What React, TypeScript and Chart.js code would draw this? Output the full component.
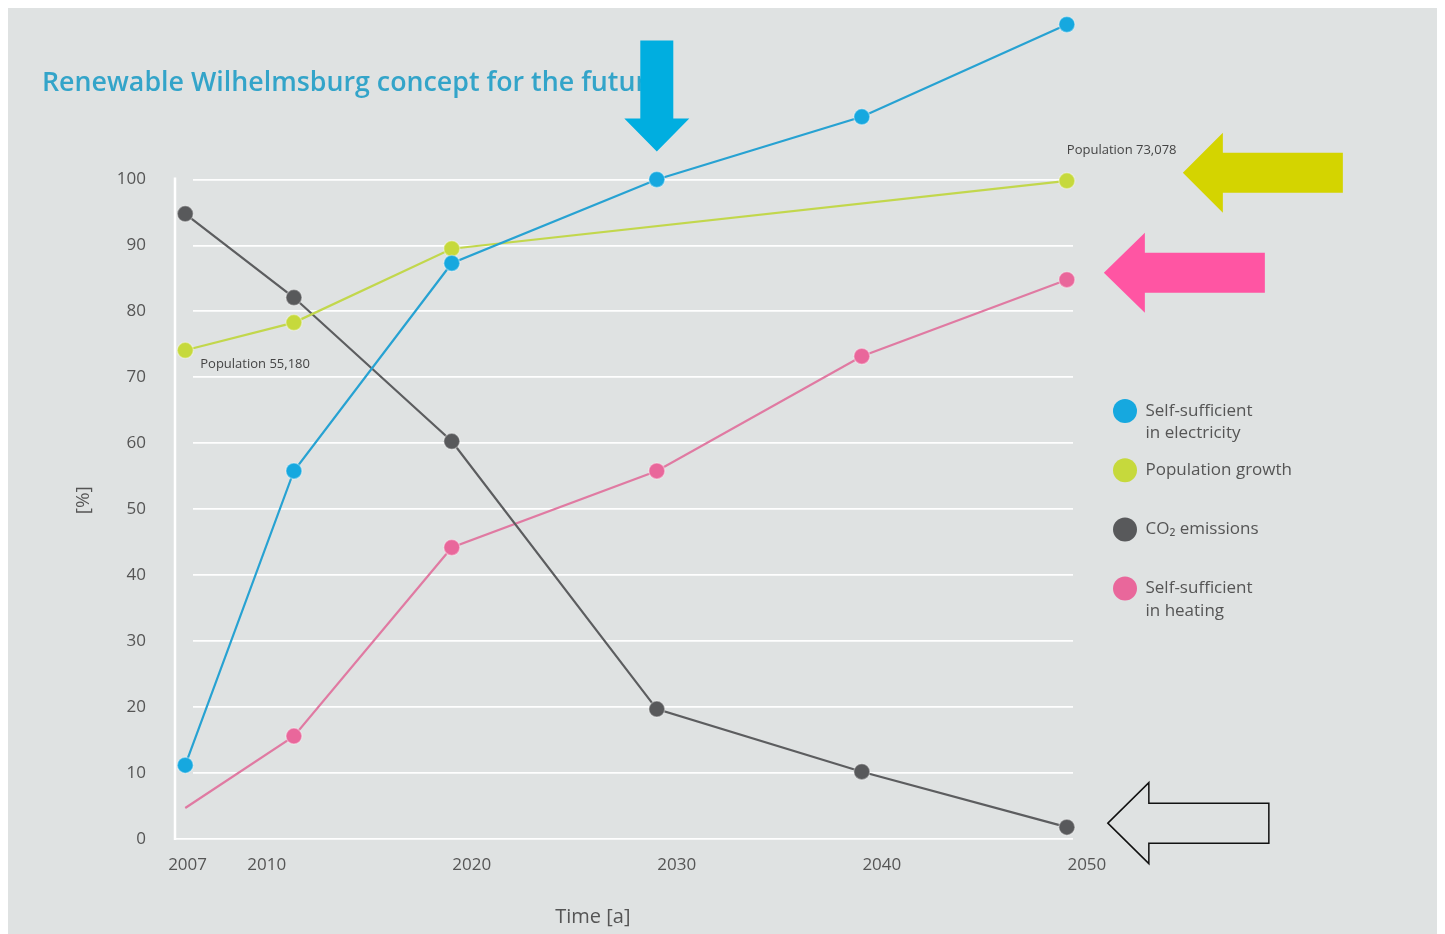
import React, { useEffect, useRef } from 'react';
import { Chart, registerables } from 'chart.js';

Chart.register(...registerables);

// ---------- data ----------
const YEARS = [2007, 2012.3, 2020, 2030, 2040, 2050];
const ELECTRICITY = [11.2, 55.8, 87.3, 100, 109.5, 123.5];
const POPULATION: (number | null)[] = [74.1, 78.3, 89.5, null, null, 99.8];
const CO2 = [94.8, 82.1, 60.3, 19.7, 10.2, 1.8];
const HEATING = [4.7, 15.6, 44.2, 55.8, 73.2, 84.8];
const HEATING_MARKER = [false, true, true, true, true, true];

const SERIES_LABELS: string[][] = [
  ['Self-sufficient', 'in electricity'],
  ['Population growth', ''],
  ['CO\u2082 emissions', ''],
  ['Self-sufficient', 'in heating'],
];

const X_TICKS = [2007, 2010, 2020, 2030, 2040, 2050];
const Y_TICKS = [0, 10, 20, 30, 40, 50, 60, 70, 80, 90, 100];

const TITLE = 'Renewable Wilhelmsburg concept for the future';
const X_TITLE = 'Time [a]';
const Y_TITLE = '[%]';
const POP_NOTE_START = 'Population 55,180';
const POP_NOTE_END = 'Population 73,078';

// ---------- styles ----------
const BG = '#dfe2e2';
const FONT = '"Open Sans", "DejaVu Sans", sans-serif';
const TEXT = '#555555';
const COLORS = ['#16a8df', '#c6d93c', '#58595b', '#e9679b'];
const LINE_COLORS = ['#27a2d2', '#c2d74c', '#5c5d5f', '#e07aa2'];

type ArrowSpec = {
  ds: number; idx: number; dir: 'down' | 'left'; dx: number; dy: number;
  len: number; head: number; headHalf: number; shaftHalf: number;
  fill: string; stroke?: string;
};

const SERIES_VALUES = [ELECTRICITY, POPULATION, CO2, HEATING];

const ARROWS: ArrowSpec[] = [
  { ds: 0, idx: 3, dir: 'down', dx: 0, dy: -28, len: 111, head: 33, headHalf: 32.5, shaftHalf: 16.5, fill: '#00aee0' },
  { ds: 1, idx: 5, dir: 'left', dx: 116, dy: -8, len: 160, head: 40, headHalf: 40, shaftHalf: 20, fill: '#d4d400' },
  { ds: 3, idx: 5, dir: 'left', dx: 37, dy: -7, len: 161, head: 41, headHalf: 40, shaftHalf: 20, fill: '#ff55a3' },
  { ds: 2, idx: 5, dir: 'left', dx: 41, dy: -4, len: 161, head: 41, headHalf: 40.5, shaftHalf: 20, fill: BG, stroke: '#111111' },
];

function drawArrow(ctx: CanvasRenderingContext2D, tx: number, ty: number, a: ArrowSpec) {
  ctx.save();
  ctx.beginPath();
  if (a.dir === 'left') {
    ctx.moveTo(tx, ty);
    ctx.lineTo(tx + a.head, ty - a.headHalf);
    ctx.lineTo(tx + a.head, ty - a.shaftHalf);
    ctx.lineTo(tx + a.len, ty - a.shaftHalf);
    ctx.lineTo(tx + a.len, ty + a.shaftHalf);
    ctx.lineTo(tx + a.head, ty + a.shaftHalf);
    ctx.lineTo(tx + a.head, ty + a.headHalf);
  } else {
    ctx.moveTo(tx, ty);
    ctx.lineTo(tx - a.headHalf, ty - a.head);
    ctx.lineTo(tx - a.shaftHalf, ty - a.head);
    ctx.lineTo(tx - a.shaftHalf, ty - a.len);
    ctx.lineTo(tx + a.shaftHalf, ty - a.len);
    ctx.lineTo(tx + a.shaftHalf, ty - a.head);
    ctx.lineTo(tx + a.headHalf, ty - a.head);
  }
  ctx.closePath();
  ctx.fillStyle = a.fill;
  ctx.fill();
  if (a.stroke) {
    ctx.strokeStyle = a.stroke;
    ctx.lineWidth = 1.5;
    ctx.stroke();
  }
  ctx.restore();
}

const decorPlugin = {
  id: 'decor',
  beforeDatasetsDraw(chart: any) {
    const { ctx, chartArea, scales } = chart;
    const y = scales.y;
    const top = y.getPixelForValue(100);
    const bottom = y.getPixelForValue(0);
    ctx.save();
    // small gap between the vertical axis and the horizontal grid lines (except baseline)
    ctx.fillStyle = BG;
    ctx.fillRect(chartArea.left + 1, top - 3, 17, bottom - top);
    // vertical axis line
    ctx.strokeStyle = '#ffffff';
    ctx.lineWidth = 2.5;
    ctx.beginPath();
    ctx.moveTo(chartArea.left, top - 2);
    ctx.lineTo(chartArea.left, bottom + 1);
    ctx.stroke();
    ctx.restore();
  },
  afterDatasetsDraw(chart: any) {
    const { ctx, scales } = chart;
    const x = scales.x;
    const y = scales.y;
    ctx.save();
    // main title
    ctx.font = `600 26.8px ${FONT}`;
    ctx.fillStyle = '#33a4c9';
    ctx.textAlign = 'left';
    ctx.textBaseline = 'alphabetic';
    ctx.fillText(TITLE, 34, 83);

    // y axis title
    ctx.save();
    ctx.translate(y.left + 76, (y.getPixelForValue(0) + y.getPixelForValue(100)) / 2 - 9);
    ctx.rotate(-Math.PI / 2);
    ctx.font = `19px ${FONT}`;
    ctx.fillStyle = TEXT;
    ctx.textAlign = 'center';
    ctx.textBaseline = 'middle';
    ctx.fillText(Y_TITLE, 0, 0);
    ctx.restore();

    // population notes
    ctx.font = `13px ${FONT}`;
    ctx.fillStyle = '#444444';
    ctx.textAlign = 'left';
    ctx.textBaseline = 'middle';
    const p0x = x.getPixelForValue(YEARS[0]);
    const p0y = y.getPixelForValue(POPULATION[0] as number);
    ctx.fillText(POP_NOTE_START, p0x + 15, p0y + 14);
    const p5x = x.getPixelForValue(YEARS[5]);
    const p5y = y.getPixelForValue(POPULATION[5] as number);
    ctx.fillText(POP_NOTE_END, p5x, p5y - 30);
    ctx.restore();

    // arrows
    for (const a of ARROWS) {
      const v = SERIES_VALUES[a.ds][a.idx] as number;
      const px = x.getPixelForValue(YEARS[a.idx]);
      const py = y.getPixelForValue(v);
      drawArrow(ctx, px + a.dx, py + a.dy, a);
    }
  },
};

function makeDataset(i: number, values: (number | null)[], markers?: boolean[]) {
  return {
    label: SERIES_LABELS[i].join(' '),
    data: YEARS.map((yr, k) => ({ x: yr, y: values[k] })),
    borderColor: LINE_COLORS[i],
    backgroundColor: COLORS[i],
    borderWidth: 2.2,
    pointBackgroundColor: COLORS[i],
    pointBorderColor: 'rgba(255,255,255,0.35)',
    pointBorderWidth: 1.5,
    pointRadius: markers ? markers.map((m) => (m ? 8 : 0)) : 8,
    tension: 0,
    spanGaps: true,
    clip: false as const,
  };
}

export default function App() {
  const canvasRef = useRef<HTMLCanvasElement | null>(null);

  useEffect(() => {
    document.documentElement.style.overflow = 'hidden';
    document.body.style.overflow = 'hidden';
    const canvas = canvasRef.current;
    if (!canvas) return;
    const chart = new Chart(canvas, {
      type: 'line',
      data: {
        datasets: [
          makeDataset(0, ELECTRICITY),
          makeDataset(1, POPULATION),
          makeDataset(2, CO2),
          makeDataset(3, HEATING, HEATING_MARKER),
        ] as any,
      },
      options: {
        animation: false,
        responsive: true,
        maintainAspectRatio: false,
        events: [],
        layout: { autoPadding: false, padding: { left: 0, right: 147, top: 0, bottom: 0 } },
        scales: {
          x: {
            type: 'linear',
            min: 2006.5,
            max: 2050.3,
            afterBuildTicks: (s: any) => {
              s.ticks = X_TICKS.map((v) => ({ value: v }));
            },
            afterFit: (s: any) => {
              s.height = 95;
              s.paddingLeft = 0;
              s.paddingRight = 0;
            },
            grid: { display: false, drawTicks: false },
            border: { display: false },
            ticks: {
              autoSkip: false,
              maxRotation: 0,
              padding: 16,
              labelOffset: 20,
              color: TEXT,
              font: { family: FONT, size: 17 },
              callback: (v: any) => (v === X_TICKS[0] ? String(v) + ' '.repeat(8) : String(v)),
            },
            title: {
              display: true,
              text: X_TITLE + ' '.repeat(12),
              color: TEXT,
              font: { family: FONT, size: 20 },
              padding: { top: 0, bottom: 5 },
            },
          },
          y: {
            type: 'linear',
            position: 'left',
            min: 0,
            max: 126,
            afterBuildTicks: (s: any) => {
              s.ticks = Y_TICKS.map((v) => ({ value: v }));
            },
            afterFit: (s: any) => {
              s.width = 167;
              s.paddingTop = 0;
              s.paddingBottom = 0;
            },
            grid: { color: 'rgba(255,255,255,0.95)', lineWidth: 1.8, drawTicks: false },
            border: { display: false },
            ticks: {
              padding: 29,
              color: TEXT,
              font: { family: FONT, size: 17 },
            },
          },
          gap: {
            type: 'linear',
            position: 'right',
            display: true,
            grid: { display: false, drawTicks: false },
            border: { display: false },
            ticks: { display: false },
            afterFit: (s: any) => {
              s.width = 25;
              s.paddingTop = 0;
              s.paddingBottom = 0;
            },
          },
        } as any,
        plugins: {
          tooltip: { enabled: false },
          title: { display: false },
          legend: {
            display: true,
            position: 'right',
            align: 'start',
            maxWidth: 200,
            title: {
              display: true,
              text: '',
              font: { size: 10 },
              padding: { top: 367.5, bottom: 0 },
            },
            labels: {
              usePointStyle: true,
              pointStyle: 'circle',
              pointStyleWidth: 24,
              padding: 15,
              color: TEXT,
              font: { family: FONT, size: 17, lineHeight: 1.3 },
              generateLabels: () =>
                SERIES_LABELS.map((lines, i) => ({
                  text: lines as any,
                  fillStyle: COLORS[i],
                  strokeStyle: COLORS[i],
                  lineWidth: 0,
                  pointStyle: 'circle',
                  hidden: false,
                  datasetIndex: i,
                  fontColor: TEXT,
                })),
            },
          },
        },
      },
      plugins: [decorPlugin],
    });
    return () => chart.destroy();
  }, []);

  return (
    <div style={{ width: 1437, height: 926, background: BG, position: 'relative' }}>
      <canvas ref={canvasRef} />
    </div>
  );
}
